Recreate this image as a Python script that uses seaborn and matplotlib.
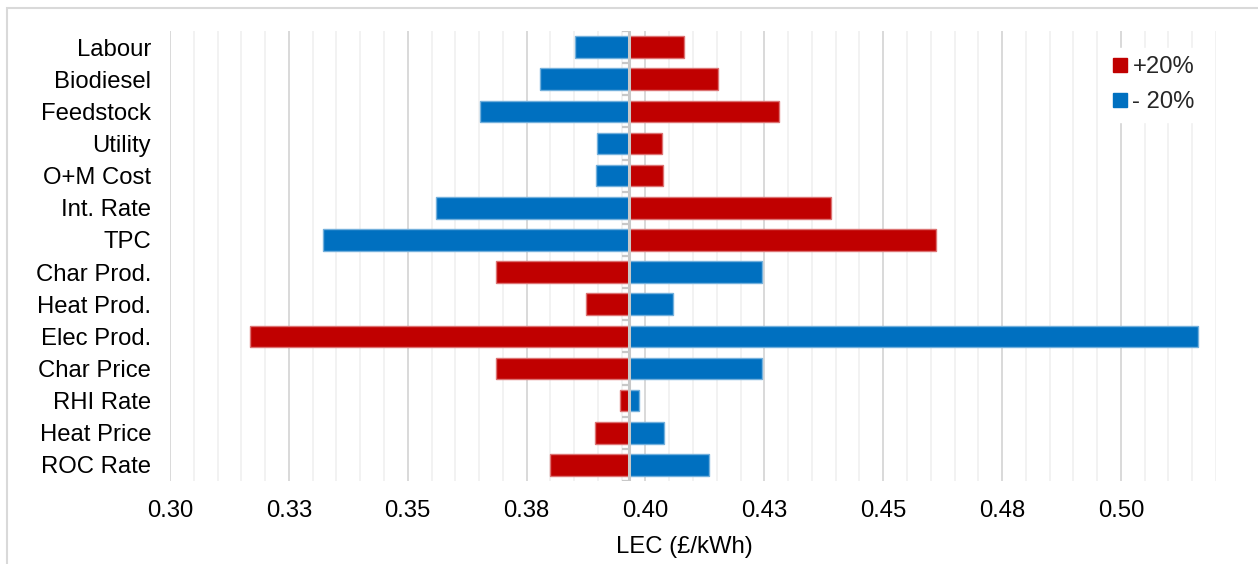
import numpy as np
import pandas as pd
import matplotlib
matplotlib.use("Agg")
import matplotlib.pyplot as plt
import matplotlib.colors as mcolors
from matplotlib.ticker import MultipleLocator, FuncFormatter
from matplotlib.lines import Line2D
from matplotlib.patches import Rectangle
import seaborn as sns

# ---- data ----
categories = ["Labour", "Biodiesel", "Feedstock", "Utility", "O+M Cost", "Int. Rate", "TPC",
              "Char Prod.", "Heat Prod.", "Elec Prod.", "Char Price", "RHI Rate", "Heat Price", "ROC Rate"]
plus20 = [0.4081, 0.4153, 0.4280, 0.4034, 0.4037, 0.4391, 0.4611,
          0.3686, 0.3874, 0.3169, 0.3686, 0.3947, 0.3894, 0.3799]
minus20 = [0.3851, 0.3779, 0.3652, 0.3898, 0.3895, 0.3559, 0.3321,
           0.4245, 0.4058, 0.5162, 0.4245, 0.3986, 0.4038, 0.4133]
base_lec = 0.3966
series_names = ["+20%", "- 20%"]
series_colors = ["#C00000", "#0070C0"]
x_min, x_max = 0.30, 0.52
x_label = "LEC (£/kWh)"

df = pd.DataFrame({
    "category": categories * 2,
    "scenario": [series_names[0]] * len(categories) + [series_names[1]] * len(categories),
    "delta": [v - base_lec for v in plus20] + [v - base_lec for v in minus20],
})

sns.set_theme(style="white")
plt.rcParams["font.family"] = ["Liberation Sans", "DejaVu Sans"]
FS = 17.2

fig = plt.figure(figsize=(12.58, 5.64), dpi=100)
W, H = 1258, 564
ax = fig.add_axes([170 / W, 1 - 481 / H, 1046 / W, 450 / H])

sns.barplot(data=df, y="category", x="delta", hue="scenario", hue_order=series_names,
            palette=series_colors, dodge=False, orient="h", width=0.67, ax=ax,
            order=categories, legend=False, zorder=2, saturation=1)

for p in ax.patches:
    fc = np.array(mcolors.to_rgb(p.get_facecolor()))
    p.set_edgecolor(tuple(fc + (1 - fc) * 0.45))
    p.set_linewidth(1.0)

ax.set_xlim(x_min - base_lec, x_max - base_lec)
ax.set_ylim(len(categories) - 0.5, -0.5)

off = (-base_lec) % 0.025
ax.xaxis.set_major_locator(MultipleLocator(0.025, offset=off))
ax.xaxis.set_minor_locator(MultipleLocator(0.005, offset=(-base_lec) % 0.005))
ax.xaxis.set_major_formatter(FuncFormatter(lambda v, p: f"{v + base_lec + 1e-9:.2f}"))

ax.grid(axis="x", which="major", color="#d9d9d9", lw=1.4, zorder=0)
ax.grid(axis="x", which="minor", color="#f0f0f0", lw=1.2, zorder=0)
ax.grid(axis="y", visible=False)
ax.set_axisbelow(True)
for s in ax.spines.values():
    s.set_visible(False)

ax.tick_params(axis="y", length=0, pad=13.5, labelsize=FS, labelcolor="black")
ax.tick_params(axis="x", which="both", length=0, pad=14, labelsize=FS, labelcolor="black")
ax.set_ylabel("")
ax.set_xlabel(x_label, fontsize=FS, color="black")
ax.xaxis.set_label_coords(0.492, -0.122)

# category axis at base value with tick marks between categories
ax.axvline(0, color="#c8c8c8", lw=2.2, zorder=3)
bounds = np.arange(len(categories) + 1) - 0.5
ax.hlines(bounds, -0.0015, 0, color="#c8c8c8", lw=1.6, zorder=3)

# legend
handles = [Line2D([0], [0], marker="s", linestyle="none", markersize=9.5,
                  markerfacecolor=c, markeredgecolor=c) for c in series_colors]
leg = fig.legend(handles, series_names, loc="upper left",
                 bbox_to_anchor=(1093 / W, 1 - 36 / H), fontsize=FS, frameon=True,
                 fancybox=False, edgecolor="white", framealpha=1,
                 handlelength=0.6, handletextpad=0.2, labelspacing=0.55, borderpad=0.35)

# outer chart border
fig.patches.append(Rectangle((7 / W, -0.2), 1.3, 1.2 - 8 / H, transform=fig.transFigure,
                             fill=False, edgecolor="#d9d9d9", lw=1.5))

fig.savefig("out.png", dpi=100)
